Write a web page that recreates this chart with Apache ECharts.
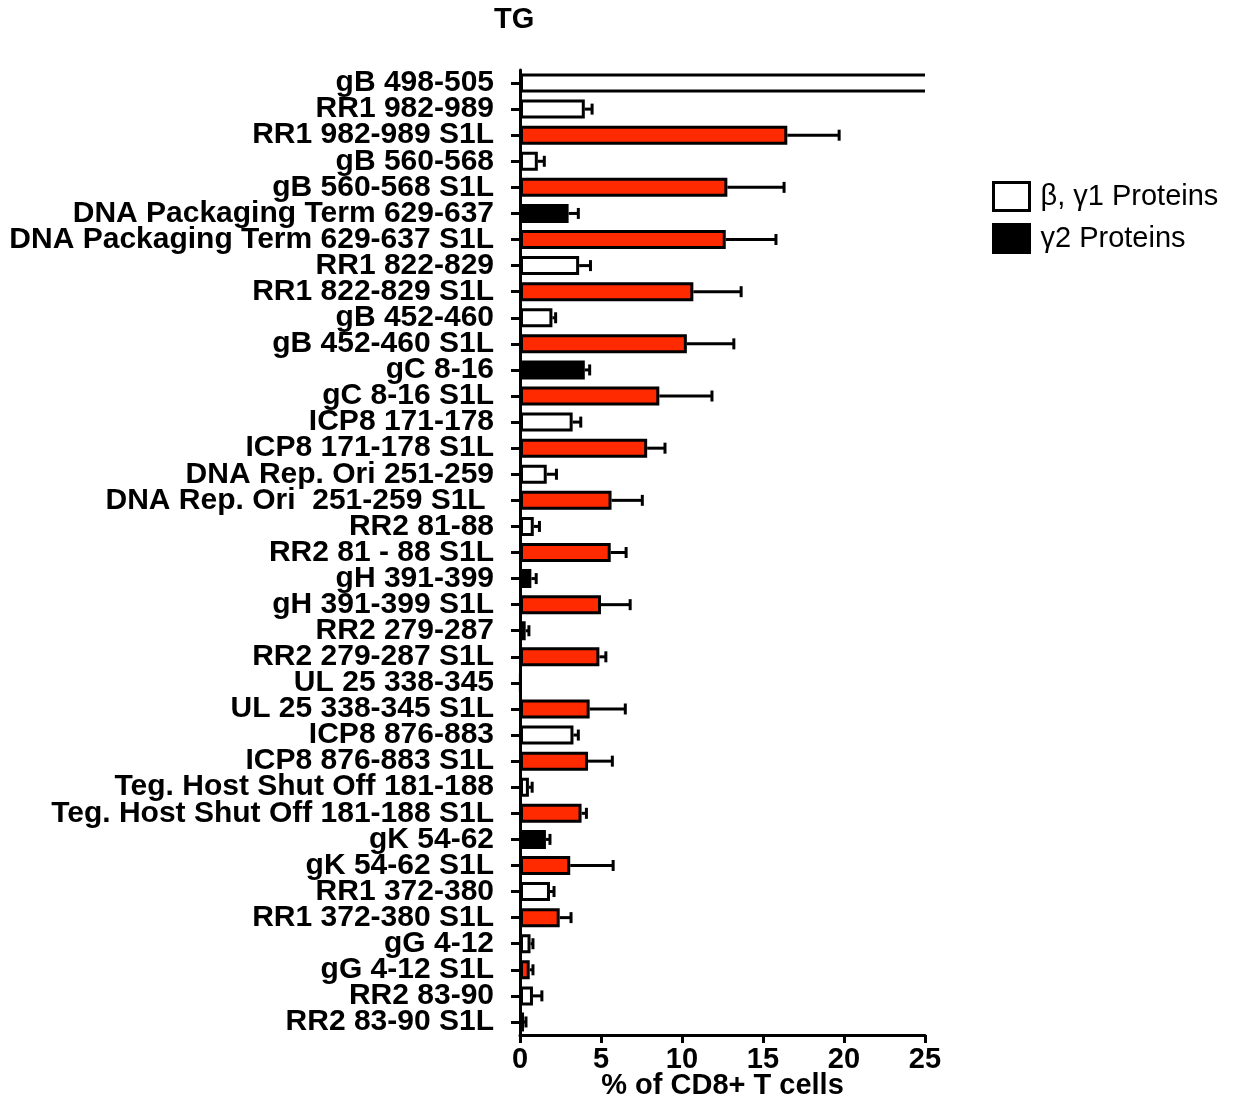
<!DOCTYPE html>
<html>
<head>
<meta charset="utf-8">
<script src="https://cdn.jsdelivr.net/npm/echarts@6/dist/echarts.min.js"></script>
<style>html,body{margin:0;padding:0;background:#fff;}#c{width:1238px;height:1099px;}</style>
</head>
<body>
<div id="c"></div>
<script>
const categories = ['gB 498-505','RR1 982-989','RR1 982-989 S1L','gB 560-568','gB 560-568 S1L','DNA Packaging Term 629-637','DNA Packaging Term 629-637 S1L','RR1 822-829','RR1 822-829 S1L','gB 452-460','gB 452-460 S1L','gC 8-16','gC 8-16 S1L','ICP8 171-178','ICP8 171-178 S1L','DNA Rep. Ori 251-259','DNA Rep. Ori  251-259 S1L ','RR2 81-88','RR2 81 - 88 S1L','gH 391-399','gH 391-399 S1L','RR2 279-287','RR2 279-287 S1L','UL 25 338-345','UL 25 338-345 S1L','ICP8 876-883','ICP8 876-883 S1L','Teg. Host Shut Off 181-188','Teg. Host Shut Off 181-188 S1L','gK 54-62','gK 54-62 S1L','RR1 372-380','RR1 372-380 S1L','gG 4-12','gG 4-12 S1L','RR2 83-90','RR2 83-90 S1L'];
const values = [30, 4.0, 16.5, 1.1, 12.8, 3.0, 12.7, 3.65, 10.7, 2.0, 10.3, 4.0, 8.6, 3.25, 7.85, 1.65, 5.65, 0.85, 5.6, 0.7, 5.0, 0.35, 4.9, 0.05, 4.3, 3.3, 4.2, 0.55, 3.8, 1.6, 3.1, 1.85, 2.45, 0.65, 0.6, 0.8, 0.25];
const errors = [0, 0.45, 3.2, 0.4, 3.5, 0.6, 3.1, 0.7, 2.95, 0.2, 2.9, 0.3, 3.25, 0.5, 1.1, 0.6, 1.9, 0.35, 0.95, 0.3, 1.8, 0.2, 0.4, 0, 2.2, 0.3, 1.5, 0.2, 0.3, 0.25, 2.65, 0.25, 0.7, 0.15, 0.2, 0.55, 0.12];
const groups = ['w','w','r','w','r','b','r','w','r','w','r','b','r','w','r','w','r','w','r','b','r','w','r','w','r','w','r','w','r','b','r','w','r','w','r','w','r'];
const xTicks = [0, 5, 10, 15, 20, 25];
const legendNames = ['β, γ1 Proteins', 'γ2 Proteins'];

const FONT = '"Liberation Sans", Arial, sans-serif';
const RED = '#ff2a00';
const XMAX = xTicks[xTicks.length - 1];
const FILL = {w: '#fff', b: '#000', r: RED};
const chart = echarts.init(document.getElementById('c'), null, {renderer: 'canvas'});

// bars within the axis range are normal bars; bars running off the axis are drawn clipped
function pick(g) { return values.map((v, i) => (groups[i] === g && v <= XMAX) ? v : '-'); }
const BAR_W = 19;
const BW = 3;
const barBase = {
  type: 'bar', barWidth: BAR_W, stack: 'one', clip: true,
  emphasis: {disabled: true}
};

const option = {
  animation: false,
  backgroundColor: '#fff',
  title: {
    text: 'TG', left: 494, top: 5, padding: 0,
    textStyle: {fontFamily: FONT, fontWeight: 'bold', fontSize: 29, color: '#000'}
  },
  legend: {
    orient: 'vertical', left: 992, top: 181, padding: 0,
    itemWidth: 36, itemHeight: 28, itemGap: 11,
    selectedMode: false,
    textStyle: {fontFamily: FONT, fontSize: 29, color: '#000', padding: [0, 0, 0, 6]},
    data: [
      {name: legendNames[0], icon: 'rect', itemStyle: {color: '#fff', borderColor: '#000', borderWidth: BW}},
      {name: legendNames[1], icon: 'rect', itemStyle: {color: '#000', borderColor: '#000', borderWidth: BW}}
    ]
  },
  grid: {left: 520, right: 313, top: 70, bottom: 64, outerBoundsMode: 'none', containLabel: false},
  xAxis: {
    type: 'value', min: xTicks[0], max: XMAX, interval: 5,
    name: '% of CD8+ T cells', nameLocation: 'middle', nameGap: 36, nameMoveOverlap: false,
    nameTextStyle: {fontFamily: FONT, fontWeight: 'bold', fontSize: 29, color: '#000'},
    axisLine: {show: true, lineStyle: {color: '#000', width: 3}},
    axisTick: {show: true, length: 8, lineStyle: {color: '#000', width: 3}},
    axisLabel: {fontFamily: FONT, fontWeight: 'bold', fontSize: 29, color: '#000', margin: 10},
    splitLine: {show: false}
  },
  yAxis: {
    type: 'category', data: categories, inverse: true,
    axisLine: {show: true, lineStyle: {color: '#000', width: 3}},
    axisTick: {show: true, alignWithLabel: true, length: 9, lineStyle: {color: '#000', width: 3}},
    axisLabel: {fontFamily: FONT, fontWeight: 'bold', fontSize: 30, color: '#000', margin: 26, interval: 0},
    splitLine: {show: false}
  },
  series: [
    Object.assign({}, barBase, {name: legendNames[0], data: pick('w'),
      itemStyle: {color: '#fff', borderColor: '#000', borderWidth: BW}}),
    Object.assign({}, barBase, {name: legendNames[1], data: pick('b'),
      itemStyle: {color: '#000', borderColor: '#000', borderWidth: BW}}),
    Object.assign({}, barBase, {name: 'S1L', data: pick('r'),
      itemStyle: {color: RED, borderColor: '#000', borderWidth: BW}}),
    {
      type: 'custom', name: 'overflow', clip: true, z: 2,
      encode: {x: 0, y: 1},
      data: values.map((v, i) => [v, i]).filter(d => d[0] > XMAX),
      renderItem: function (params, api) {
        const v = api.value(0), idx = api.value(1);
        const p0 = api.coord([0, idx]);
        const p1 = api.coord([v, idx]);
        const h = BAR_W - BW;
        return {
          type: 'rect',
          shape: {x: p0[0] + BW / 2, y: p0[1] - h / 2, width: p1[0] - p0[0], height: h},
          style: {fill: FILL[groups[idx]], stroke: '#000', lineWidth: BW}
        };
      }
    },
    {
      type: 'custom', name: 'err', clip: true, z: 1,
      encode: {x: 0, y: 1},
      data: values.map((v, i) => [v, i, errors[i]]),
      renderItem: function (params, api) {
        const v = api.value(0), idx = api.value(1), e = api.value(2);
        if (!e) return null;
        const p0 = api.coord([v, idx]);
        const p1 = api.coord([v + e, idx]);
        return {
          type: 'group',
          children: [
            {type: 'line', shape: {x1: p0[0], y1: p0[1], x2: p1[0], y2: p1[1]}, style: {stroke: '#000', lineWidth: 3}},
            {type: 'line', shape: {x1: p1[0], y1: p1[1] - 5.5, x2: p1[0], y2: p1[1] + 5.5}, style: {stroke: '#000', lineWidth: 3}}
          ]
        };
      }
    }
  ]
};
chart.setOption(option);
</script>
</body>
</html>
